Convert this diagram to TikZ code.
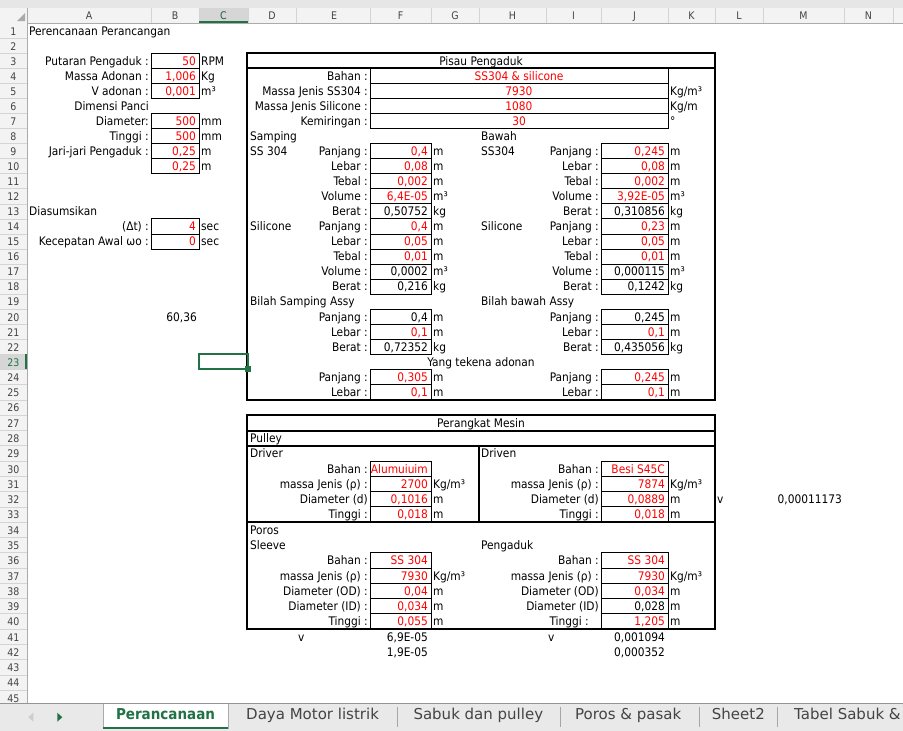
\documentclass[tikz,border=0pt]{standalone}
\usepackage{fontspec}
\newfontfamily\cellfont{DejaVu Sans Condensed}
\newfontfamily\tabfont{DejaVu Sans}
\definecolor{exred}{HTML}{FF0000}
\definecolor{exgreen}{HTML}{217346}
\definecolor{hdrbg}{HTML}{F3F3F3}
\definecolor{hdrline}{HTML}{D4D4D4}
\definecolor{hdrdark}{HTML}{ABABAB}
\definecolor{hdrsel}{HTML}{D6D6D6}
\definecolor{hdrtxt}{HTML}{444444}
\definecolor{topstrip}{HTML}{E6E6E6}
\definecolor{tabbg}{HTML}{E9E9E9}
\definecolor{tabsep}{HTML}{A6A6A6}
\tikzset{
  txt/.style={inner sep=0pt, font=\cellfont\fontsize{11.8}{13}\selectfont},
  rtxt/.style={txt, anchor=base east},
  ltxt/.style={txt, anchor=base west},
  ctxt/.style={txt, anchor=base},
  hdrfont/.style={inner sep=0pt, text=hdrtxt, font=\cellfont\fontsize{10.5}{12}\selectfont},
  thinline/.style={draw=black, line width=1pt},
  thickline/.style={draw=black, line width=2pt},
  tabtxt/.style={inner sep=0pt, anchor=base west, text=hdrtxt, font=\tabfont\fontsize{15}{17}\selectfont},
}
\newcommand\Tr[3]{\node[rtxt] at (#1,{bl(#2)}) {#3};}
\newcommand\Tl[3]{\node[ltxt] at (#1,{bl(#2)}) {#3};}
\newcommand\Tc[3]{\node[ctxt] at (#1,{bl(#2)}) {#3};}
\newcommand\Vb[5]{\draw[thinline] (#1,{rt(#3)}) rectangle (#2,{rt(#3+1)});
  \node[rtxt, text=#4] at (#2-3,{bl(#3)}) {#5};}
\newcommand\Fl[5]{\Tr{368}{#1}{#2}\Vb{370}{431}{#1}{#3}{#4}\Tl{433}{#1}{#5}}
\newcommand\Jl[5]{\Tr{599}{#1}{#2}\Vb{601}{668}{#1}{#3}{#4}\Tl{670}{#1}{#5}}
\newcommand\Bl[5]{\Tr{149}{#1}{#2}\Vb{151}{199}{#1}{#3}{#4}\Tl{201}{#1}{#5}}
\begin{document}
\begin{tikzpicture}[x=1pt,y=-1pt,
  declare function={
    rt(\k)=(\k<=24)*(53.4+15.05*(\k-3))+(\k>24)*(369.4+15.28*(\k-24));
    bl(\k)=rt(\k+1)-3.3;
    rc(\k)=0.5*(rt(\k)+rt(\k+1));
  }]
\useasboundingbox (0,0) rectangle (903,731);
\fill[white] (0,0) rectangle (903,731);
% top strip and column header
\fill[topstrip] (0,0) rectangle (903,8.25);
\draw[hdrline, line width=0.8pt] (0,8.25) -- (903,8.25);
\fill[hdrbg] (0,8.25) rectangle (903,23.3);
\fill[hdrsel] (199,8.25) rectangle (248,23.3);
\foreach \xb in {27,151,199,248,296,370,431,479,546,601,668,715,763,844,893}
  \draw[hdrline, line width=0.8pt] (\xb,8.25) -- (\xb,23.3);
\draw[hdrdark, line width=0.8pt] (0,23.3) -- (903,23.3);
\draw[exgreen, line width=2pt] (199,22.3) -- (248,22.3);
\fill[hdrline!80!black] (25,13) -- (25,21) -- (17,21) -- cycle;
\foreach \cx/\cl in {89/A,175/B,334/E,272/D,400.5/F,455/G,512.5/H,573.5/I,634.5/J,691.5/K,739/L,803.5/M,868.5/N}
  \node[hdrfont, anchor=base] at (\cx,19.5) {\cl};
\node[hdrfont, anchor=base, text=exgreen!80!black] at (223.5,19.5) {C};
% row header
\fill[hdrbg] (0,{rt(1)}) rectangle (27,704);
\fill[hdrsel] (0,{rt(23)}) rectangle (27,{rt(24)});
\foreach \k in {2,...,46}
  \draw[hdrline, line width=0.8pt] (0,{rt(\k)}) -- (27,{rt(\k)});
\draw[hdrdark, line width=0.8pt] (27,8.25) -- (27,704);
\draw[exgreen, line width=2pt] (26,{rt(23)}) -- (26,{rt(24)});
\foreach \k in {1,...,22,24,25,...,45}
  \node[hdrfont, anchor=base] at (13.5,{bl(\k)}) {\k};
\node[hdrfont, anchor=base, text=exgreen] at (13.5,{bl(23)}) {23};
% ---------- left section
\Tl{29}{1}{Perencanaan Perancangan}
\Bl{3}{Putaran Pengaduk :}{exred}{50}{RPM}
\Bl{4}{Massa Adonan :}{exred}{1,006}{Kg}
\Bl{5}{V adonan :}{exred}{0,001}{m³}
\Tr{149}{6}{Dimensi Panci}
\Bl{7}{Diameter:}{exred}{500}{mm}
\Bl{8}{Tinggi :}{exred}{500}{mm}
\Bl{9}{Jari-jari Pengaduk :}{exred}{0,25}{m}
\Bl{10}{}{exred}{0,25}{m}
\Tl{29}{13}{Diasumsikan}
\Bl{14}{(Δt) :}{exred}{4}{sec}
\Bl{15}{Kecepatan Awal ωo :}{exred}{0}{sec}
\Tr{197}{20}{60,36}
% ---------- Pisau Pengaduk
\Tc{481}{3}{Pisau Pengaduk}
\draw[thinline] (370,{rt(4)}) rectangle (668,{rt(8)});
\foreach \k in {5,6,7} \draw[thinline] (370,{rt(\k)}) -- (668,{rt(\k)});
\Tr{368}{4}{Bahan :}\node[ctxt, text=exred] at (519,{bl(4)}) {SS304 \& silicone};
\Tr{368}{5}{Massa Jenis SS304 :}\node[ctxt, text=exred] at (519,{bl(5)}) {7930};\Tl{670}{5}{Kg/m³}
\Tr{368}{6}{Massa Jenis Silicone :}\node[ctxt, text=exred] at (519,{bl(6)}) {1080};\Tl{670}{6}{Kg/m}
\Tr{368}{7}{Kemiringan :}\node[ctxt, text=exred] at (519,{bl(7)}) {30};\Tl{670}{7}{°}
\Tl{250}{8}{Samping}\Tl{481}{8}{Bawah}
\Tl{250}{9}{SS 304}\Tl{481}{9}{SS304}
\Fl{9}{Panjang :}{exred}{0,4}{m}\Jl{9}{Panjang :}{exred}{0,245}{m}
\Fl{10}{Lebar :}{exred}{0,08}{m}\Jl{10}{Lebar :}{exred}{0,08}{m}
\Fl{11}{Tebal :}{exred}{0,002}{m}\Jl{11}{Tebal :}{exred}{0,002}{m}
\Fl{12}{Volume :}{exred}{6,4E-05}{m³}\Jl{12}{Volume :}{exred}{3,92E-05}{m³}
\Fl{13}{Berat :}{black}{0,50752}{kg}\Jl{13}{Berat :}{black}{0,310856}{kg}
\Tl{250}{14}{Silicone}\Tl{481}{14}{Silicone}
\Fl{14}{Panjang :}{exred}{0,4}{m}\Jl{14}{Panjang :}{exred}{0,23}{m}
\Fl{15}{Lebar :}{exred}{0,05}{m}\Jl{15}{Lebar :}{exred}{0,05}{m}
\Fl{16}{Tebal :}{exred}{0,01}{m}\Jl{16}{Tebal :}{exred}{0,01}{m}
\Fl{17}{Volume :}{black}{0,0002}{m³}\Jl{17}{Volume :}{black}{0,000115}{m³}
\Fl{18}{Berat :}{black}{0,216}{kg}\Jl{18}{Berat :}{black}{0,1242}{kg}
\Tl{250}{19}{Bilah Samping Assy}\Tl{481}{19}{Bilah bawah Assy}
\Fl{20}{Panjang :}{black}{0,4}{m}\Jl{20}{Panjang :}{black}{0,245}{m}
\Fl{21}{Lebar :}{exred}{0,1}{m}\Jl{21}{Lebar :}{exred}{0,1}{m}
\Fl{22}{Berat :}{black}{0,72352}{kg}\Jl{22}{Berat :}{black}{0,435056}{kg}
\Tc{481}{23}{Yang tekena adonan}
\Fl{24}{Panjang :}{exred}{0,305}{m}\Jl{24}{Panjang :}{exred}{0,245}{m}
\Fl{25}{Lebar :}{exred}{0,1}{m}\Jl{25}{Lebar :}{exred}{0,1}{m}
\draw[thickline] (247,{rt(3)}) rectangle (715,{rt(26)});
\draw[thickline] (247,{rt(4)}) -- (715,{rt(4)});
% ---------- Perangkat Mesin
\Tc{481}{27}{Perangkat Mesin}
\Tl{250}{28}{Pulley}
\Tl{250}{29}{Driver}\Tl{481}{29}{Driven}
\Fl{30}{Bahan :}{exred}{Alumuiuim}{}\Jl{30}{Bahan :}{exred}{Besi S45C}{}
\Fl{31}{massa Jenis (ρ) :}{exred}{2700}{Kg/m³}\Jl{31}{massa Jenis (ρ) :}{exred}{7874}{Kg/m³}
\Fl{32}{Diameter (d)}{exred}{0,1016}{m}\Jl{32}{Diameter (d)}{exred}{0,0889}{m}
\Fl{33}{Tinggi :}{exred}{0,018}{m}\Jl{33}{Tinggi :}{exred}{0,018}{m}
\Tl{717}{32}{v}\Tr{842}{32}{0,00011173}
\Tl{250}{34}{Poros}
\Tl{250}{35}{Sleeve}\Tl{481}{35}{Pengaduk}
\Fl{36}{Bahan :}{exred}{SS 304}{}\Jl{36}{Bahan :}{exred}{SS 304}{}
\Fl{37}{massa Jenis (ρ) :}{exred}{7930}{Kg/m³}\Jl{37}{massa Jenis (ρ) :}{exred}{7930}{Kg/m³}
\Fl{38}{Diameter (OD) :}{exred}{0,04}{m}\Jl{38}{Diameter (OD)}{exred}{0,034}{m}
\Fl{39}{Diameter (ID) :}{exred}{0,034}{m}\Jl{39}{Diameter (ID)}{black}{0,028}{m}
\Fl{40}{Tinggi :}{exred}{0,055}{m}
\Tr{589}{40}{Tinggi :}\Vb{601}{668}{40}{exred}{1,205}\Tl{670}{40}{m}
\draw[thickline] (247,{rt(27)}) rectangle (715,{rt(41)});
\foreach \k in {28,29,34} \draw[thickline] (247,{rt(\k)}) -- (715,{rt(\k)});
\draw[thickline] (479,{rt(29)}) -- (479,{rt(34)});
\Tl{298}{41}{v}\Tr{428}{41}{6,9E-05}
\Tl{548}{41}{v}\Tr{665}{41}{0,001094}
\Tr{428}{42}{1,9E-05}\Tr{665}{42}{0,000352}
% ---------- selected cell C23
\draw[exgreen, line width=2pt] (199,{rt(23)}) rectangle (248,{rt(24)});
\fill[exgreen] (248,{rt(24)}) ++(-3,-3) rectangle ++(6,6);
% ---------- sheet tabs
\fill[tabbg] (0,703.5) rectangle (903,731);
\draw[hdrline!70!black, line width=0.8pt] (0,703.5) -- (903,703.5);
\fill[white] (103,703.5) rectangle (228,729);
\draw[hdrdark, line width=0.8pt] (103,703.5) -- (103,729) (228,703.5) -- (228,729);
\draw[exgreen, line width=2.5pt] (103,728) -- (228,728);
\fill[hdrdark!60] (28.3,717.2) -- (33.3,712.7) -- (33.3,721.7) -- cycle;
\fill[exgreen] (62.3,717.2) -- (57.3,712.7) -- (57.3,721.7) -- cycle;
\node[inner sep=0pt, anchor=base, text=exgreen, font=\cellfont\bfseries\fontsize{15}{17}\selectfont] at (165.5,719.5) {Perancanaan};
\node[tabtxt] at (246,719.5) {Daya Motor listrik};
\node[tabtxt] at (413.3,719.5) {Sabuk dan pulley};
\node[tabtxt] at (575,719.5) {Poros \& pasak};
\node[tabtxt] at (711.7,719.5) {Sheet2};
\node[tabtxt] at (794,719.5) {Tabel Sabuk \&};
\foreach \xs in {397.3,560,699,777.7}
  \draw[tabsep, line width=0.8pt] (\xs,706.7) -- (\xs,726.7);
\end{tikzpicture}
\end{document}
